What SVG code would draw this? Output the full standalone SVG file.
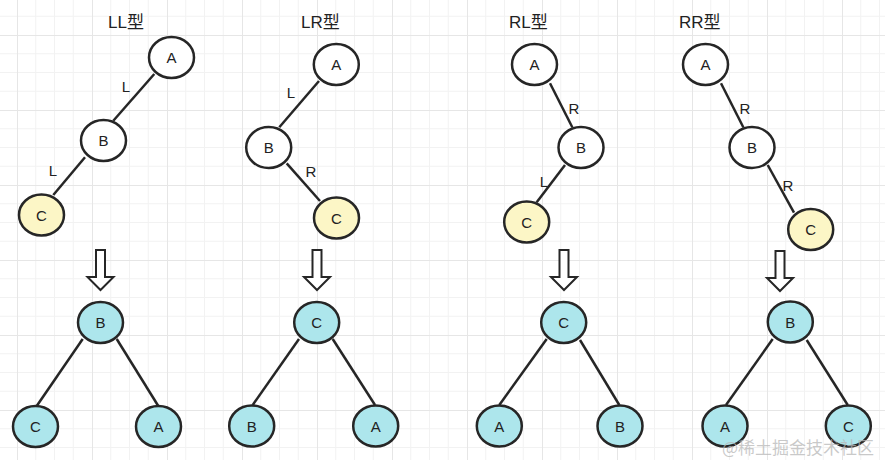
<svg xmlns="http://www.w3.org/2000/svg" width="885" height="460" viewBox="0 0 885 460">
<style>
.bg{fill:#ffffff}
.node ellipse{stroke:#262626;stroke-width:2.5}
.w{fill:#ffffff}
.y{fill:#fcf6c6}
.c{fill:#ade6ec}
.lbl{font-family:"Liberation Sans","DejaVu Sans",sans-serif;font-size:15px;fill:#222;text-anchor:middle}
.title{font-family:"Liberation Sans","Noto Sans CJK SC",sans-serif;font-size:17px;fill:#222}
#connectors line{stroke:#262626;stroke-width:2.5}
.arrow{fill:#ffffff;stroke:#262626;stroke-width:2;stroke-linejoin:miter}
.wm{font-family:"Noto Sans CJK SC",sans-serif;font-size:17px;fill:#b8b8b8;fill-opacity:0.75}
</style>
<defs>
<pattern id="grid" patternUnits="userSpaceOnUse" x="17" y="35" width="75" height="75">
<path d="M18.75 0V75M37.5 0V75M56.25 0V75M0 18.75H75M0 37.5H75M0 56.25H75" stroke="#f2f2f2" stroke-width="1" fill="none"/>
<path d="M0.5 0V75M0 0.5H75" stroke="#e6e6e6" stroke-width="1" fill="none"/>
</pattern>
</defs>
<rect class="bg" x="0" y="0" width="885" height="460"/>
<rect x="0" y="0" width="885" height="460" fill="url(#grid)"/>

<g id="titles">
<text class="title" x="108" y="28">LL型</text>
<text class="title" x="301" y="28">LR型</text>
<text class="title" x="509" y="28">RL型</text>
<text class="title" x="679" y="28">RR型</text>
</g>

<g id="connectors">
<line x1="154.3" y1="74" x2="113.3" y2="120.7"/>
<line x1="85" y1="157.3" x2="53.3" y2="195"/>
<line x1="319" y1="81" x2="279.3" y2="127.3"/>
<line x1="286.7" y1="163.3" x2="320" y2="201"/>
<line x1="550" y1="83.3" x2="572.3" y2="127.3"/>
<line x1="565" y1="165" x2="536.7" y2="202.3"/>
<line x1="721" y1="83.3" x2="743.3" y2="127.3"/>
<line x1="767.7" y1="165" x2="794" y2="212.7"/>
<line x1="82.7" y1="339" x2="36.7" y2="406"/>
<line x1="116.7" y1="339" x2="158.3" y2="406"/>
<line x1="299" y1="339" x2="252.7" y2="405"/>
<line x1="332.7" y1="339" x2="375" y2="405"/>
<line x1="546.7" y1="339" x2="499.3" y2="405"/>
<line x1="580" y1="340" x2="619.3" y2="405"/>
<line x1="772.7" y1="339" x2="726" y2="405"/>
<line x1="806.7" y1="340" x2="847.7" y2="405"/>
</g>

<g id="edge-labels">
<text class="lbl" x="126" y="92">L</text>
<text class="lbl" x="53" y="176">L</text>
<text class="lbl" x="291" y="98">L</text>
<text class="lbl" x="311" y="177">R</text>
<text class="lbl" x="574" y="114">R</text>
<text class="lbl" x="544" y="187">L</text>
<text class="lbl" x="745" y="114">R</text>
<text class="lbl" x="788" y="191">R</text>
</g>

<g id="arrows">
<polygon class="arrow" points="96,250 105,250 105,277 113.5,277 100.5,290 87.5,277 96,277"/>
<polygon class="arrow" points="312.5,250 321.5,250 321.5,277 330,277 317,290 304,277 312.5,277"/>
<polygon class="arrow" points="559.5,250 568.5,250 568.5,277 577,277 564,290 551,277 559.5,277"/>
<polygon class="arrow" points="775.5,251 784.5,251 784.5,278 793,278 780,291 767,278 775.5,278"/>
</g>

<g id="LL-A" class="node"><ellipse class="w" cx="171.5" cy="57.5" rx="22.5" ry="20.5"/><text class="lbl" x="171.5" y="63">A</text></g>
<g id="LL-B" class="node"><ellipse class="w" cx="103.5" cy="140.5" rx="22.5" ry="20.5"/><text class="lbl" x="103.5" y="146">B</text></g>
<g id="LL-C" class="node"><ellipse class="y" cx="41.5" cy="215" rx="22.5" ry="20.5"/><text class="lbl" x="41.5" y="220.5">C</text></g>

<g id="LR-A" class="node"><ellipse class="w" cx="336.3" cy="64.5" rx="22.5" ry="20.5"/><text class="lbl" x="336.3" y="70">A</text></g>
<g id="LR-B" class="node"><ellipse class="w" cx="268.7" cy="147.5" rx="22.5" ry="20.5"/><text class="lbl" x="268.7" y="153">B</text></g>
<g id="LR-C" class="node"><ellipse class="y" cx="336.5" cy="218" rx="22.5" ry="20.5"/><text class="lbl" x="336.5" y="223.5">C</text></g>

<g id="RL-A" class="node"><ellipse class="w" cx="534.5" cy="64.5" rx="22.5" ry="20.5"/><text class="lbl" x="534.5" y="70">A</text></g>
<g id="RL-B" class="node"><ellipse class="w" cx="581" cy="147.5" rx="22.5" ry="20.5"/><text class="lbl" x="581" y="153">B</text></g>
<g id="RL-C" class="node"><ellipse class="y" cx="526.7" cy="222" rx="22.5" ry="20.5"/><text class="lbl" x="526.7" y="227.5">C</text></g>

<g id="RR-A" class="node"><ellipse class="w" cx="705.5" cy="64.5" rx="22.5" ry="20.5"/><text class="lbl" x="705.5" y="70">A</text></g>
<g id="RR-B" class="node"><ellipse class="w" cx="752" cy="147.5" rx="22.5" ry="20.5"/><text class="lbl" x="752" y="153">B</text></g>
<g id="RR-C" class="node"><ellipse class="y" cx="810.7" cy="229.5" rx="22.5" ry="20.5"/><text class="lbl" x="810.7" y="235">C</text></g>

<g id="LL2-B" class="node"><ellipse class="c" cx="100.5" cy="322.5" rx="22.5" ry="20.5"/><text class="lbl" x="100.5" y="328">B</text></g>
<g id="LL2-C" class="node"><ellipse class="c" cx="35.5" cy="426.5" rx="22.5" ry="20.5"/><text class="lbl" x="35.5" y="432">C</text></g>
<g id="LL2-A" class="node"><ellipse class="c" cx="158.5" cy="426.5" rx="22.5" ry="20.5"/><text class="lbl" x="158.5" y="432">A</text></g>

<g id="LR2-C" class="node"><ellipse class="c" cx="316.7" cy="322.5" rx="22.5" ry="20.5"/><text class="lbl" x="316.7" y="328">C</text></g>
<g id="LR2-B" class="node"><ellipse class="c" cx="251.7" cy="426" rx="22.5" ry="20.5"/><text class="lbl" x="251.7" y="431.5">B</text></g>
<g id="LR2-A" class="node"><ellipse class="c" cx="375.7" cy="426" rx="22.5" ry="20.5"/><text class="lbl" x="375.7" y="431.5">A</text></g>

<g id="RL2-C" class="node"><ellipse class="c" cx="563.7" cy="322.5" rx="22.5" ry="20.5"/><text class="lbl" x="563.7" y="328">C</text></g>
<g id="RL2-A" class="node"><ellipse class="c" cx="499.3" cy="426" rx="22.5" ry="20.5"/><text class="lbl" x="499.3" y="431.5">A</text></g>
<g id="RL2-B" class="node"><ellipse class="c" cx="620" cy="426" rx="22.5" ry="20.5"/><text class="lbl" x="620" y="431.5">B</text></g>

<g id="RR2-B" class="node"><ellipse class="c" cx="790.3" cy="322" rx="22.5" ry="20.5"/><text class="lbl" x="790.3" y="327.5">B</text></g>
<g id="RR2-A" class="node"><ellipse class="c" cx="725" cy="426" rx="22.5" ry="20.5"/><text class="lbl" x="725" y="431.5">A</text></g>
<g id="RR2-C" class="node"><ellipse class="c" cx="848.3" cy="426" rx="22.5" ry="20.5"/><text class="lbl" x="848.3" y="431.5">C</text></g>

<text class="wm" x="722" y="454">@稀土掘金技术社区</text>
</svg>
